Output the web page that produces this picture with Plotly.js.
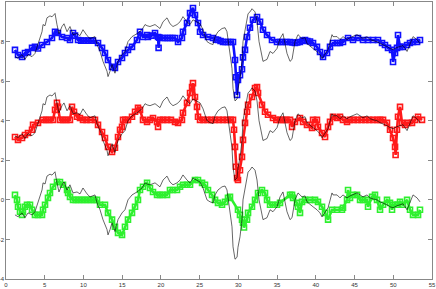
<!DOCTYPE html>
<html>
<head>
<meta charset="utf-8">
<script src="https://cdn.plot.ly/plotly-3.0.1.min.js"></script>
<style>html,body{margin:0;padding:0;background:#fff;}#chart{width:436px;height:289px;}</style>
</head>
<body>
<div id="chart"></div>
<script>
// Black reference signal (same x for all three bands)
var blackX = [1.16,1.55,2.07,2.45,2.84,3.36,3.74,4.13,4.39,4.65,4.78,5.04,5.29,5.68,5.94,6.33,6.58,6.84,7.23,7.49,7.88,8.26,8.65,9.17,9.55,9.94,10.46,10.85,11.49,11.75,12.14,12.52,13.04,13.17,13.43,13.69,14.07,14.46,14.98,15.36,15.75,16.27,16.91,17.56,17.95,18.21,18.59,19.24,19.88,20.27,20.79,21.17,21.56,22.08,22.47,22.85,23.37,23.76,24.14,24.66,25.05,25.44,25.95,26.34,26.73,26.99,27.37,27.89,28.28,28.53,28.79,29.18,29.31,29.57,29.83,29.95,30.21,30.47,30.60,30.86,31.12,31.25,31.50,31.76,32.15,32.41,32.67,32.92,33.18,33.70,34.09,34.47,34.99,35.38,35.76,36.02,36.28,36.67,36.93,37.31,37.70,38.22,38.61,38.86,39.25,39.64,40.15,40.54,40.80,41.19,41.58,42.09,42.22,42.74,43.12,43.51,44.03,44.42,44.80,45.32,45.71,46.09,46.61,47.00,47.39,47.90,48.29,48.68,49.19,49.58,49.97,50.48,50.87,51.26,51.78,52.16,52.55,53.07,53.45];
var blackLow = [-0.76,-0.85,-0.66,-0.9,-0.66,-0.76,-0.6,-0.15,0.1,0.5,0.86,0.8,1.2,1.3,1.25,1.42,0.86,0.4,0.76,0.9,0.5,0.76,0.35,0.4,0.3,0.6,0.3,0.15,0.25,-0.15,-0.5,-1.0,-1.5,-1.77,-1.5,-1.16,-1.6,-1.0,-0.66,-0.5,0,0.25,0.4,0.6,0.86,0.8,0.76,0.86,0.66,1.0,1.2,0.9,0.76,0.86,1.0,1.26,1.0,0.86,1.1,1.0,0.9,0.6,0.0,-0.1,-0.15,0.25,0.5,0.66,0.7,0.5,-0.15,-1.36,-2.37,-3.0,-2.9,-2.4,-1.87,-1.0,0.0,0.5,1.16,1.41,1.5,1.66,1.5,1.0,0.0,-0.6,-1.0,-0.9,-0.5,-0.6,-0.35,0.15,0.4,-0.1,-0.6,-1.0,-0.9,0.0,0.35,0.15,0.2,-0.1,-0.25,-0.35,-0.5,-0.66,-0.86,-0.66,-0.4,0.35,0.25,0.25,0.1,0.25,0.1,0.2,0.25,0.35,0.25,0.15,0.25,0.1,0.05,0.0,-0.1,-0.15,-0.25,-0.35,-0.4,-0.3,-0.25,-0.2,-0.5,-0.15,0.25,0.1,-0.1];
var blackMid = [3.24,3.15,3.34,3.1,3.34,3.24,3.4,3.85,4.1,4.5,4.86,4.8,5.2,5.3,5.25,5.42,4.86,4.4,4.76,4.9,4.5,4.76,4.35,4.4,4.3,4.6,4.3,4.15,4.25,3.85,3.5,3.0,2.5,2.23,2.5,2.84,2.4,3.0,3.34,3.5,4,4.25,4.4,4.6,4.86,4.8,4.76,4.86,4.66,5.0,5.2,4.9,4.76,4.86,5.0,5.26,5.0,4.86,5.1,5.0,4.9,4.6,4.0,3.9,3.85,4.25,4.5,4.66,4.7,4.5,3.85,2.64,1.63,1.0,1.1,1.6,2.13,3.0,4.0,4.5,5.16,5.41,5.5,5.66,5.5,5.0,4.0,3.4,3.0,3.1,3.5,3.4,3.65,4.15,4.4,3.9,3.4,3.0,3.1,4.0,4.35,4.15,4.2,3.9,3.75,3.65,3.5,3.34,3.14,3.34,3.6,4.35,4.25,4.25,4.1,4.25,4.1,4.2,4.25,4.35,4.25,4.15,4.25,4.1,4.05,4.0,3.9,3.85,3.75,3.65,3.6,3.7,3.75,3.8,3.5,3.85,4.25,4.1,3.9];
var blackHigh = [7.24,7.15,7.34,7.1,7.34,7.24,7.4,7.85,8.1,8.5,8.86,8.8,9.2,9.3,9.25,9.42,8.86,8.4,8.76,8.9,8.5,8.76,8.35,8.4,8.3,8.6,8.3,8.15,8.25,7.85,7.5,7.0,6.5,6.23,6.5,6.84,6.4,7.0,7.34,7.5,8,8.25,8.4,8.6,8.86,8.8,8.76,8.86,8.66,9.0,9.2,8.9,8.76,8.86,9.0,9.26,9.0,8.86,9.1,9.0,8.9,8.6,8.0,7.9,7.85,8.25,8.5,8.66,8.7,8.5,7.85,6.64,5.63,5.0,5.1,5.6,6.13,7.0,8.0,8.5,9.16,9.41,9.5,9.66,9.5,9.0,8.0,7.4,7.0,7.1,7.5,7.4,7.65,8.15,8.4,7.9,7.4,7.0,7.1,8.0,8.35,8.15,8.2,7.9,7.75,7.65,7.5,7.34,7.14,7.34,7.6,8.35,8.25,8.25,8.1,8.25,8.1,8.2,8.25,8.35,8.25,8.15,8.25,8.1,8.05,8.0,7.9,7.85,7.75,7.65,7.6,7.7,7.75,7.8,7.5,7.85,8.25,8.1,7.9];

// Blue series (upper band)
var blueX = [1.16,1.55,2.07,2.45,2.84,3.36,3.74,4.13,4.65,5.29,5.94,6.33,6.71,7.23,7.88,8.26,8.65,8.91,9.30,9.70,10.10,10.59,11.00,11.23,11.88,12.40,12.78,13.17,13.69,14.07,14.46,14.98,15.36,15.75,16.27,16.91,17.30,17.69,18.21,18.33,18.80,19.24,19.63,19.70,19.80,20.20,20.53,20.90,21.17,21.50,21.82,22.21,22.72,22.85,23.37,23.76,24.14,24.40,24.79,25.05,25.44,26.08,26.73,27.10,27.37,27.70,28.02,28.35,28.66,29.00,29.31,29.57,29.70,29.83,29.95,30.21,30.47,30.60,30.86,31.12,31.50,31.89,32.41,32.80,33.18,33.70,34.34,34.99,35.40,35.76,36.20,36.67,37.00,37.31,37.60,37.96,38.30,38.61,38.90,39.25,39.64,40.15,40.54,40.93,41.45,41.83,42.22,42.74,43.12,43.51,44.16,44.80,45.45,46.09,46.74,47.39,48.03,48.55,48.93,49.32,49.84,49.97,50.23,50.48,50.61,50.87,51.26,51.78,52.16,52.55,53.07,53.45];
var blueY = [7.58,7.32,7.22,7.42,7.47,7.68,7.73,7.65,7.83,7.98,8.18,8.5,8.43,8.23,8.18,8.08,8.43,8.3,8.08,8.05,8.05,8.05,8.05,8.05,7.93,7.68,7.42,7.07,6.72,6.67,6.97,7.17,7.42,7.58,7.73,8.08,8.5,8.23,8.33,8.23,8.3,8.43,8.23,7.68,8.2,8.18,8.18,8.18,8.18,8.18,8.18,7.98,8.18,8.5,8.94,9.44,9.7,9.34,8.94,8.5,8.33,8.23,8.18,8.1,8.08,8.03,7.98,7.98,7.98,7.98,7.98,7.07,6.2,5.3,6.06,6.3,6.6,7.2,7.58,8.23,8.7,9.1,9.24,9.0,8.6,8.33,8.08,7.98,7.98,7.98,7.98,7.98,7.95,7.93,7.95,7.98,8.05,8.08,8.03,8.0,7.93,7.73,7.47,7.22,7.42,7.73,7.93,7.93,7.93,7.98,8.18,8.08,8.18,8.08,8.08,8.08,8.08,7.93,7.83,7.68,7.58,6.97,7.42,7.68,8.33,7.73,7.73,7.83,7.93,7.98,7.98,8.08];

// Red series (middle band)
var redX = [1.16,1.55,2.07,2.45,2.84,3.36,3.49,4.13,4.78,5.20,5.60,6.07,6.33,6.58,6.71,6.97,7.40,7.80,8.26,8.52,8.78,9.17,9.55,9.94,10.40,10.90,11.49,11.88,12.40,12.78,13.17,13.69,14.07,14.46,14.72,14.98,15.11,15.40,15.75,16.27,16.66,17.04,17.30,17.69,18.21,18.59,18.98,19.50,19.63,19.88,20.30,20.80,21.30,21.82,22.21,22.72,22.85,23.37,23.76,24.02,24.14,24.40,24.66,24.79,25.05,25.50,26.00,26.50,27.00,27.50,28.00,28.50,29.00,29.31,29.44,29.57,29.70,29.83,29.95,30.21,30.47,30.60,30.86,31.12,31.25,31.76,32.15,32.41,32.54,33.05,33.44,33.83,34.47,34.90,35.38,35.80,36.20,36.67,36.93,37.31,37.96,38.35,38.86,39.51,39.64,40.15,40.28,40.80,41.19,41.58,41.83,42.22,42.74,43.12,43.51,44.03,44.42,44.90,45.40,45.90,46.40,46.90,47.40,47.90,48.30,48.68,49.19,49.58,49.97,50.23,50.30,50.48,50.61,50.87,51.13,51.52,51.90,52.42,52.81,53.20,53.71];
var redY = [3.18,3.03,3.13,3.28,3.38,3.54,3.79,3.89,4.04,4.04,4.04,4.04,4.55,4.9,4.7,4.04,4.04,4.04,4.04,4.7,4.45,4.2,4.14,4.04,4.04,4.04,4.04,3.79,3.43,3.13,2.68,2.42,2.63,3.18,3.54,3.69,4.04,4.04,4.04,4.2,4.45,4.65,4.55,4.04,3.94,4.04,4.14,3.94,3.69,4.04,4.04,4.04,4.04,3.94,3.89,4.04,4.4,4.9,5.4,5.7,5.9,5.2,4.7,4.2,4.04,4.04,4.04,4.04,4.04,4.04,4.04,4.04,4.04,4.04,3.54,2.68,1.67,1.1,1.0,1.5,2.17,3.03,3.89,4.45,4.8,5.2,5.65,5.7,5.4,4.8,4.45,4.3,4.14,4.04,4.04,4.04,4.04,4.04,3.69,3.94,4.14,3.94,3.79,3.64,4.04,4.04,3.69,3.38,3.18,3.69,3.94,4.2,4.14,4.2,4.04,3.94,4.04,4.04,4.04,4.04,4.04,4.04,4.04,4.04,4.04,4.04,3.89,3.54,3.13,2.68,2.27,3.54,4.2,4.7,3.89,3.79,3.89,3.89,4.04,4.2,4.04];

// Green series (lower band)
var greenX = [1.16,1.42,1.55,1.81,2.07,2.19,2.45,2.71,3.10,3.36,3.74,4.13,4.65,4.78,5.04,5.42,5.68,6.07,6.58,6.97,7.36,7.88,8.01,8.26,8.65,9.00,9.40,9.80,10.20,10.60,11.00,11.40,11.75,12.14,12.78,13.17,13.69,14.07,14.46,14.98,15.36,15.75,16.27,16.66,17.04,17.30,17.69,18.21,18.59,18.98,19.50,19.88,20.27,20.79,21.17,21.56,22.08,22.47,22.85,23.37,23.76,24.40,24.79,25.31,25.69,26.08,26.60,26.99,27.37,27.89,28.28,28.66,28.92,29.95,30.21,30.47,30.60,30.73,31.12,31.25,31.76,32.15,32.54,33.05,33.44,33.70,34.09,34.47,34.99,35.38,36.67,36.93,37.06,37.57,37.70,37.96,38.22,38.61,39.25,39.90,40.28,40.80,41.19,41.58,42.09,42.74,43.38,43.51,44.03,44.16,44.42,44.80,45.32,45.71,46.09,46.61,46.74,47.26,47.64,47.90,48.29,48.68,49.19,49.58,49.84,49.97,50.48,50.61,50.87,51.26,51.78,52.16,52.55,53.20,53.45];
var greenY = [0.25,0,-0.35,-0.6,-0.76,-0.6,-0.35,-0.25,-0.25,-0.5,-0.76,-0.76,-0.76,-0.5,-0.25,0.1,0.35,0.66,0.9,0.9,0.76,0.5,0.35,0.15,0,0,0,0,0,0,0,0,0,-0.25,-0.25,-0.66,-1.0,-1.36,-1.67,-1.77,-1.36,-1.0,-0.66,-0.35,0,0.5,0.66,0.86,0.6,0.4,0.25,0.25,0.25,0.25,0.5,0.5,0.5,0.66,0.76,0.76,0.76,1.0,1.0,0.86,0.76,0.5,0.25,0,-0.15,-0.25,-0.1,0.1,0.15,-0.5,-0.76,-1.0,-1.16,-1.4,-1.0,-0.66,-0.35,0,0.35,0.5,0.35,0,-0.25,-0.25,-0.25,-0.15,0.25,0.25,0.1,-0.15,-0.35,-0.66,-0.1,0,0,0,-0.1,-0.35,-0.66,-1.0,-0.5,-0.5,-0.5,-0.4,0,0.5,0.1,0.25,0.25,0,0,0,-0.35,0.15,0.25,0,-0.5,-0.25,0,-0.15,-0.5,-0.25,-0.25,-0.25,-0.1,-0.25,0,-0.5,-0.76,-0.76,-0.5];

var xTicks = [0,5,10,15,20,25,30,35,40,45,50,55];
var yTicks = [-4,-2,0,2,4,6,8,10];

function colored(x, y, color) {
  return {x: x, y: y, type: 'scatter', mode: 'lines+markers',
    line: {color: color, width: 2.6},
    marker: {symbol: 'square-open', size: 5, color: color, line: {color: color, width: 1.6}},
    hoverinfo: 'skip', showlegend: false};
}
function black(x, y) {
  return {x: x, y: y, type: 'scatter', mode: 'lines',
    line: {color: '#000', width: 0.6}, hoverinfo: 'skip', showlegend: false};
}

var data = [
  colored(blueX, blueY, '#1010ff'),
  colored(redX, redY, '#ff1a1a'),
  colored(greenX, greenY, '#2ef02e'),
  black(blackX, blackHigh),
  black(blackX, blackMid),
  black(blackX, blackLow)
];

var axisCommon = {
  showgrid: false, zeroline: false, showline: true, mirror: 'ticks',
  linecolor: '#555', linewidth: 0.7, ticks: 'inside', ticklen: 4, tickwidth: 0.7,
  tickcolor: '#555', automargin: false,
  tickfont: {family: 'Liberation Sans, Arial, sans-serif', size: 6, color: '#333'}
};

var layout = {
  width: 436, height: 289,
  margin: {l: 6, r: 4, t: 2, b: 10, pad: 0},
  paper_bgcolor: '#fff', plot_bgcolor: '#fff',
  xaxis: Object.assign({}, axisCommon, {range: [0, 55], tickmode: 'array', tickvals: xTicks, ticktext: xTicks.map(String)}),
  yaxis: Object.assign({}, axisCommon, {range: [-4, 10], tickmode: 'array', tickvals: yTicks, ticktext: yTicks.map(String)}),
  showlegend: false
};

Plotly.newPlot('chart', data, layout, {displayModeBar: false, staticPlot: true});
</script>
</body>
</html>
